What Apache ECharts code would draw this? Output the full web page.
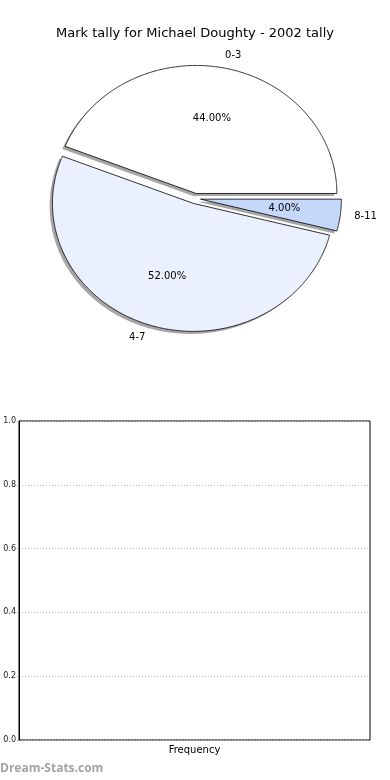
<!DOCTYPE html>
<html><head><meta charset="utf-8">
<script src="https://cdn.jsdelivr.net/npm/echarts@6/dist/echarts.min.js"></script>
<style>html,body{margin:0;padding:0;background:#fff}#c{width:390px;height:780px}</style>
</head><body><div id="c"></div>
<script>
const titleText = 'Mark tally for Michael Doughty - 2002 tally';
const categories = ['0-3', '4-7', '8-11'];
const values = [44, 52, 4];
const sliceColors = ['#ffffff', '#eaf0fd', '#c5d8fb'];
const explode = [0.04, 0.04, 0.04];
const barCategories = [];
const barValues = [];
const yTickValues = [0, 0.2, 0.4, 0.6, 0.8, 1.0];

const FONT = 'DejaVu Sans';
const total = values.reduce((a, b) => a + b, 0);
function angles(i) {
  let s = 0;
  for (let k = 0; k < i; k++) s += values[k];
  return [s / total * 2 * Math.PI, (s + values[i]) / total * 2 * Math.PI];
}
function wedge(api, i, ox, oy) {
  const [a0, a1] = angles(i);
  const m = (a0 + a1) / 2;
  const cx = explode[i] * Math.cos(m) + ox, cy = explode[i] * Math.sin(m) + oy;
  const pts = [api.coord([cx, cy])];
  const n = Math.max(2, Math.ceil((a1 - a0) / (Math.PI / 360)));
  for (let k = 0; k <= n; k++) {
    const t = a0 + (a1 - a0) * k / n;
    pts.push(api.coord([cx + Math.cos(t), cy + Math.sin(t)]));
  }
  return { pts, cx, cy, m };
}

const chart = echarts.init(document.getElementById('c'), null, { renderer: 'canvas' });
chart.setOption({
  animation: false,
  backgroundColor: '#ffffff',
  title: {
    text: titleText, left: 'center', top: 22,
    textStyle: { fontFamily: FONT, fontSize: 13, fontWeight: 'normal', color: '#000' }
  },
  grid: [
    { left: 19, top: 38.5, width: 352, height: 320, show: false },
    { left: 19, top: 421, width: 351, height: 319, show: true, borderColor: '#000', borderWidth: 1, backgroundColor: '#fff' }
  ],
  xAxis: [
    { gridIndex: 0, type: 'value', min: -1.25, max: 1.25, show: false },
    { gridIndex: 1, type: 'value', min: 0, max: 1, axisLabel: { show: false }, axisTick: { show: false },
      axisLine: { show: false }, splitLine: { show: false },
      name: 'Frequency', nameLocation: 'middle', nameGap: 5,
      nameTextStyle: { fontFamily: FONT, fontSize: 10, color: '#000', verticalAlign: 'top' } }
  ],
  yAxis: [
    { gridIndex: 0, type: 'value', min: -1.25, max: 1.25, show: false },
    { gridIndex: 1, type: 'value', min: yTickValues[0], max: yTickValues[yTickValues.length - 1], interval: 0.2,
      axisLine: { show: true, lineStyle: { color: '#000', width: 1 } },
      axisTick: { show: true, length: 2, lineStyle: { color: '#aaa' } },
      axisLabel: { fontFamily: FONT, fontSize: 8, color: '#222', margin: 3, formatter: v => v.toFixed(1) },
      splitLine: { show: true, lineStyle: { color: '#bbb', type: [1, 2], width: 1 } } }
  ],
  graphic: [
    { type: 'text', left: 0, top: 763, silent: true,
      style: { text: 'Dream-Stats.com', fill: '#a3a3a3', font: 'bold 12px "Open Sans"' } }
  ],
  series: [
    {
      type: 'custom', name: 'shadow', xAxisIndex: 0, yAxisIndex: 0, z: 1, silent: true,
      data: values.map(v => [0, v]),
      renderItem: function (params, api) {
        const i = params.dataIndex;
        const w = wedge(api, i, -0.02, -0.02);
        return { type: 'polygon', shape: { points: w.pts }, style: { fill: 'rgba(77,77,77,0.5)', stroke: null } };
      }
    },
    {
      type: 'custom', name: 'pie', xAxisIndex: 0, yAxisIndex: 0, z: 2, silent: true,
      data: values.map(v => [0, v]),
      renderItem: function (params, api) {
        const i = params.dataIndex;
        const w = wedge(api, i, 0, 0);
        const lp = api.coord([w.cx + 1.1 * Math.cos(w.m), w.cy + 1.1 * Math.sin(w.m)]);
        const pp = api.coord([w.cx + 0.6 * Math.cos(w.m), w.cy + 0.6 * Math.sin(w.m)]);
        const pct = (api.value(1) / total * 100).toFixed(2) + '%';
        return {
          type: 'group',
          children: [
            { type: 'polygon', shape: { points: w.pts }, style: { fill: sliceColors[i], stroke: '#000', lineWidth: 0.8 } },
            { type: 'text', x: lp[0], y: lp[1], style: { text: categories[i], fill: '#000', fontFamily: FONT, fontSize: 10,
              align: Math.cos(w.m) >= 0 ? 'left' : 'right', verticalAlign: 'middle' } },
            { type: 'text', x: pp[0], y: pp[1], style: { text: pct, fill: '#000', fontFamily: FONT, fontSize: 10,
              align: 'center', verticalAlign: 'middle' } }
          ]
        };
      }
    },
    { type: 'bar', name: 'Frequency', xAxisIndex: 1, yAxisIndex: 1, data: barValues }
  ]
});
</script></body></html>
